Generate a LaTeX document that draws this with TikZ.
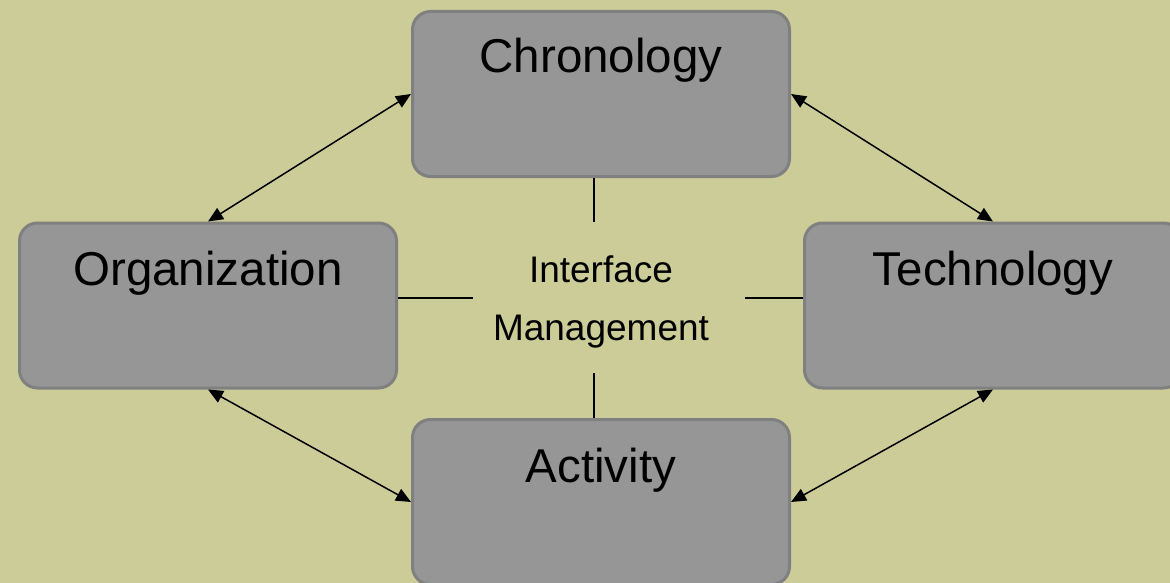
\documentclass[tikz,border=0pt]{standalone}
\usepackage{fontspec}
\setmainfont{Liberation Sans}
\usetikzlibrary{arrows.meta}
\definecolor{bgolive}{RGB}{204,204,153}
\definecolor{boxfill}{RGB}{150,150,150}
\definecolor{boxline}{RGB}{128,128,128}
\begin{document}
\begin{tikzpicture}[x=1pt,y=-1pt,
  box/.style={draw=boxline, line width=3pt, fill=boxfill, rounded corners=18pt,
    minimum width=377pt, minimum height=165pt, inner sep=0pt},
  title/.style={anchor=base, inner sep=0pt, font=\fontsize{47.5}{57}\selectfont},
  imtext/.style={anchor=base, inner sep=0pt, font=\fontsize{37}{44}\selectfont},
  link/.style={line width=1.5pt,
    {Triangle[length=15pt,width=13pt]}-{Triangle[length=15pt,width=13pt]}},
  tie/.style={line width=1.5pt}]
  % canvas
  \clip (0,0) rectangle (1170,583);
  \fill[bgolive] (0,0) rectangle (1170,583);

  % the four boxes
  \node[box] (chron) at (601,94) {};
  \node[box] (org)   at (208,305.5) {};
  \node[box] (tech)  at (993,305.5) {};
  \node[box] (act)   at (601,502) {};

  % box titles
  \node[title] (chront) at (601,73)  {Chronology};
  \node[title] (orgt)   at (208,285) {Organization};
  \node[title] (techt)  at (993,285) {Technology};
  \node[title] (actt)   at (601,482) {Activity};

  % centre label
  \node[imtext] (imtop) at (601,282) {Interface};
  \node[imtext] (imbot) at (601,340) {Management};

  % two-way links between neighbouring boxes
  \draw[link] (chron.west) -- (org.north);
  \draw[link] (chron.east) -- (tech.north);
  \draw[link] (org.south)  -- (act.west);
  \draw[link] (act.east)   -- (tech.south);

  % short ties towards the centre label
  \coordinate (ct) at (594,222);
  \coordinate (cb) at (594,373);
  \coordinate (cl) at (473,298);
  \coordinate (cr) at (745,298);
  \draw[tie] (chron.south -| ct) -- (ct);
  \draw[tie] (cb) -- (act.north -| cb);
  \draw[tie] (org.east |- cl) -- (cl);
  \draw[tie] (cr) -- (tech.west |- cr);
\end{tikzpicture}
\end{document}
